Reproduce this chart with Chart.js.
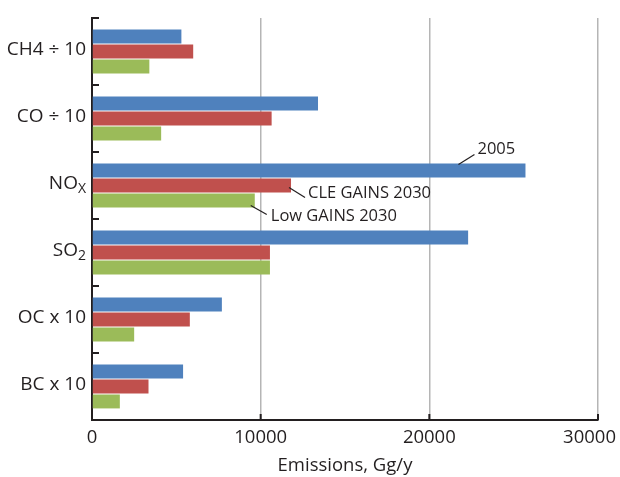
<!DOCTYPE html>
<html>
<head>
<meta charset="utf-8">
<script src="https://cdn.jsdelivr.net/npm/chart.js@4/dist/chart.umd.min.js"></script>
<style>
  html, body { margin: 0; padding: 0; background: #fff; }
</style>
</head>
<body>
<canvas id="chart" width="620" height="477"></canvas>
<script>
// categories (main text + subscript part)
const categories = ['CH4 ÷ 10', 'CO ÷ 10', 'NO', 'SO', 'OC x 10', 'BC x 10'];
const subscripts = ['', '', 'X', '2', '', ''];

// emissions, Gg/y
const seriesNames = ['2005', 'CLE GAINS 2030', 'Low GAINS 2030'];
const em2005 = [5300, 13400, 25700, 22300, 7700, 5400];
const emCle2030 = [6000, 10650, 11800, 10550, 5800, 3350];
const emLow2030 = [3400, 4100, 9650, 10550, 2500, 1650];

const xTicks = [0, 10000, 20000, 30000];
const labelledRow = 2; // NOx row carries the series names

const TEXT = '#231f20';
const FONT = "'Open Sans', sans-serif";
const colors = ['#4f81bd', '#c0504d', '#9bbb59'];

function line(ctx, x1, y1, x2, y2) {
  ctx.beginPath();
  ctx.moveTo(x1, y1);
  ctx.lineTo(x2, y2);
  ctx.stroke();
}

// inward tick marks, axis labels and series callouts
const decor = {
  id: 'decor',
  afterDraw(chart) {
    const ctx = chart.ctx;
    const xs = chart.scales.x, ys = chart.scales.y;
    const area = chart.chartArea;
    ctx.save();
    ctx.strokeStyle = TEXT;
    ctx.fillStyle = TEXT;
    ctx.lineWidth = 2;

    // x ticks point up into the plot; labels kept inside the canvas
    ctx.font = `18.5px ${FONT}`;
    ctx.textAlign = 'center';
    ctx.textBaseline = 'middle';
    xTicks.forEach((v, i) => {
      const px = xs.getPixelForValue(v);
      if (i > 0) line(ctx, px, area.bottom, px, area.bottom - 6);
      const txt = String(v);
      const w = ctx.measureText(txt).width;
      ctx.fillText(txt, Math.min(px, chart.width - 4 - w / 2), area.bottom + 18);
    });

    const band = ys.getPixelForValue(1) - ys.getPixelForValue(0);
    for (let i = 0; i < categories.length; i++) {
      const py = ys.getPixelForValue(i) - band / 2;
      line(ctx, area.left, py, area.left + 7, py);
    }

    // category names
    ctx.textAlign = 'left';
    categories.forEach((c, i) => {
      const py = ys.getPixelForValue(i) - 2;
      ctx.font = `19px ${FONT}`;
      const w1 = ctx.measureText(c).width;
      ctx.font = `14px ${FONT}`;
      const w2 = subscripts[i] ? ctx.measureText(subscripts[i]).width : 0;
      const x0 = area.left - 6 - w1 - w2;
      ctx.font = `19px ${FONT}`;
      ctx.fillText(c, x0, py);
      if (subscripts[i]) {
        ctx.font = `14px ${FONT}`;
        ctx.fillText(subscripts[i], x0 + w1, py + 6);
      }
    });

    // callouts next to the NOx bars
    const callouts = [
      { from: [-67, -6], to: [-51, -16], text: [-48, -21] },
      { from: [-2, 2], to: [14, 12], text: [17, 8] },
      { from: [-4, 5], to: [12, 14], text: [16, 16] }
    ];
    ctx.lineWidth = 1.2;
    ctx.font = `16.5px ${FONT}`;
    callouts.forEach((c, d) => {
      const bar = chart.getDatasetMeta(d).data[labelledRow];
      line(ctx, bar.x + c.from[0], bar.y + c.from[1], bar.x + c.to[0], bar.y + c.to[1]);
      ctx.fillText(seriesNames[d], bar.x + c.text[0], bar.y + c.text[1]);
    });
    ctx.restore();
  }
};

new Chart(document.getElementById('chart'), {
  type: 'bar',
  data: {
    labels: categories.map((c, i) => c + subscripts[i]),
    datasets: [em2005, emCle2030, emLow2030].map((d, i) => ({
      label: seriesNames[i],
      data: d,
      backgroundColor: colors[i],
      borderWidth: 0,
      categoryPercentage: 0.67,
      barPercentage: 0.93
    }))
  },
  options: {
    indexAxis: 'y',
    responsive: false,
    animation: false,
    layout: { padding: { top: 18, right: 22, left: 0, bottom: 0 } },
    plugins: { legend: { display: false }, tooltip: { enabled: false } },
    scales: {
      x: {
        min: 0,
        max: 30000,
        afterBuildTicks: s => { s.ticks = xTicks.map(v => ({ value: v })); },
        ticks: { display: false },
        grid: { color: '#b5b5b5', lineWidth: 1.5, drawTicks: false },
        border: { color: TEXT, width: 2 },
        title: { display: true, text: 'Emissions, Gg/y', color: TEXT, font: { family: FONT, size: 18.5 }, padding: 0 },
        afterFit: s => { s.height = 57; s.paddingLeft = 0; s.paddingRight = 0; }
      },
      y: {
        ticks: { display: false },
        grid: { display: false },
        border: { color: TEXT, width: 2 },
        afterFit: s => { s.width = 92; }
      }
    }
  },
  plugins: [decor]
});
</script>
</body>
</html>
